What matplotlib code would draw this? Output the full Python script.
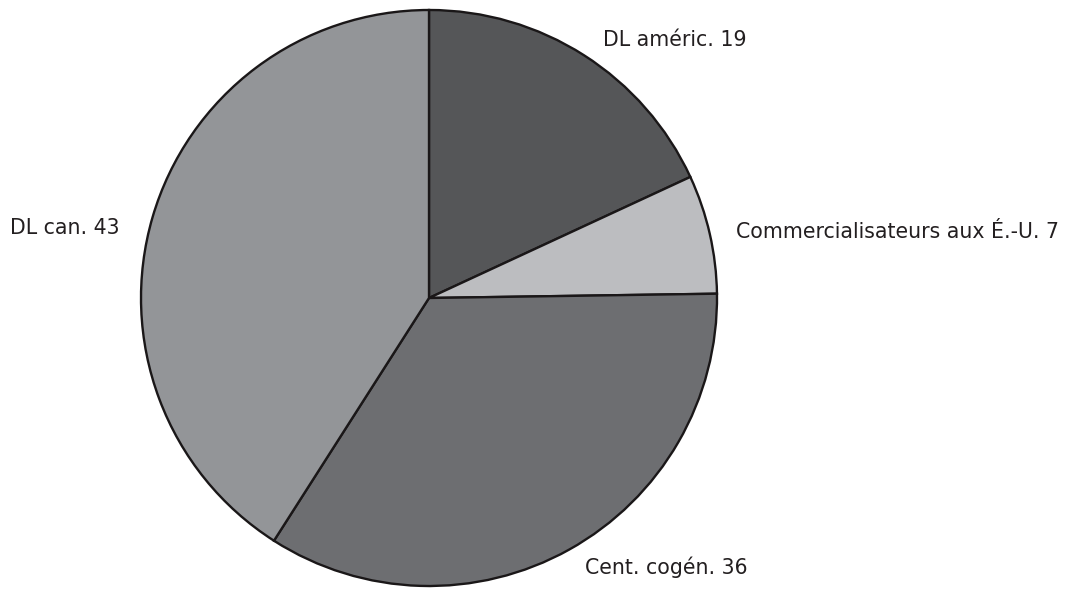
import matplotlib
matplotlib.use("Agg")
import matplotlib.pyplot as plt

categories = ["DL améric.", "Commercialisateurs aux É.-U.", "Cent. cogén.", "DL can."]
values = [19, 7, 36, 43]
colors = ["#555658", "#bcbdc0", "#6d6e71", "#939598"]

# label anchor (left x, centre y) in pixel space, y measured from the top
label_pos = [(603, 40), (736, 232), (585, 567), (10, 228)]

W, H = 1066, 589
fig = plt.figure(figsize=(W / 100, H / 100), dpi=100)
ax = fig.add_axes([0, 0, 1, 1])
ax.set_aspect("equal")
ax.axis("off")

ax.pie(values, colors=colors, startangle=90, counterclock=False,
       center=(429, H - 298), radius=288,
       wedgeprops=dict(edgecolor="#1a1718", linewidth=1.7))
ax.set_xlim(0, W)
ax.set_ylim(0, H)

for name, v, (x, y) in zip(categories, values, label_pos):
    ax.text(x, H - y, f"{name} {v}", ha="left", va="center",
            fontsize=14.8, color="#231f20", family="DejaVu Sans")

fig.savefig("out.png", dpi=100)
